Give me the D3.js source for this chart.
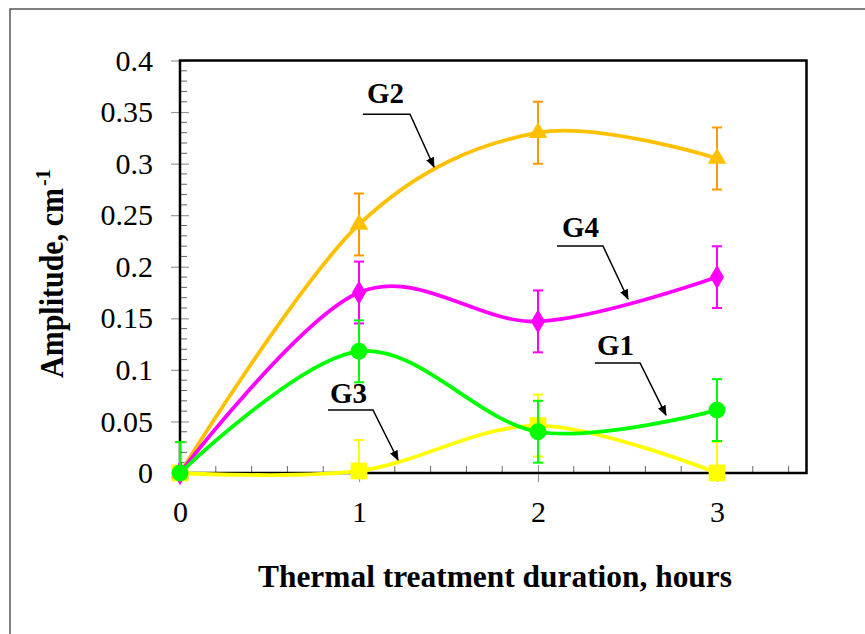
<!DOCTYPE html>
<html>
<head>
<meta charset="utf-8">
<script src="https://cdn.jsdelivr.net/npm/d3@7"></script>
<style>
  body { margin: 0; background: #fff; }
  svg text { font-family: "Liberation Serif", "Times New Roman", serif; }
</style>
</head>
<body>
<div id="chart"></div>
<script>
// data
const hours = [0, 1, 2, 3];
const g1 = [0, 0.118, 0.040, 0.061];
const g2 = [0, 0.241, 0.330, 0.305];
const g3 = [0, 0.002, 0.046, 0];
const g4 = [0, 0.175, 0.147, 0.190];
const errG1 = [0.03, 0.03, 0.03, 0.03];
const errG2 = [0.03, 0.03, 0.03, 0.03];
const errG3 = [0.03, 0.03, 0.03, 0.03];
const errG4 = [0.03, 0.03, 0.03, 0.03];
const yTicks = [0, 0.05, 0.1, 0.15, 0.2, 0.25, 0.3, 0.35, 0.4];
const xTicks = [0, 1, 2, 3];

// annotation labels: [text, label x, label y, elbow start x, elbow end x, elbow y, tip x, tip y] (data units)
const notes = [
    ["G2", 1.045, 0.3588, 1.022, 1.285, 0.348, 1.419, 0.2967],
    ["G4", 2.134, 0.2288, 2.106, 2.363, 0.2201, 2.503, 0.1687],
    ["G1", 2.330, 0.1144, 2.318, 2.570, 0.1067, 2.715, 0.0562],
    ["G3", 0.838, 0.0679, 0.827, 1.078, 0.0611, 1.218, 0.0126]
];

const W = 865, H = 634;
const FONT = "'Liberation Serif', 'Times New Roman', serif";
const svg = d3.select("#chart").append("svg")
    .attr("width", W)
    .attr("height", H);

// outer frame
svg.append("path")
    .attr("d", "M10," + H + "V9H" + W)
    .attr("fill", "none")
    .attr("stroke", "#555")
    .attr("stroke-width", 1.5);

const x = d3.scaleLinear().domain([0, 3.5]).range([180, 806.5]);
const y = d3.scaleLinear().domain([0, 0.4]).range([473, 60.5]);

svg.append("defs").append("clipPath")
    .attr("id", "plotclip")
    .append("rect")
    .attr("x", x(0) - 12).attr("y", y(0.4))
    .attr("width", x(3.5) - x(0) + 12).attr("height", y(0) - y(0.4));

// minor ticks
const yMinor = d3.range(0, 0.4001, 0.01).filter(function (v) { return Math.abs(v * 20 - Math.round(v * 20)) > 1e-6; });
svg.append("g").selectAll("line")
    .data(yMinor)
    .enter().append("line")
    .attr("x1", x(0)).attr("x2", x(0) + 7)
    .attr("y1", function (d) { return y(d); })
    .attr("y2", function (d) { return y(d); })
    .attr("stroke", "#666").attr("stroke-width", 1);

const xMinor = d3.range(0, 3.5001, 0.2).filter(function (v) { return Math.abs(v - Math.round(v)) > 1e-6; });
svg.append("g").selectAll("line")
    .data(xMinor)
    .enter().append("line")
    .attr("x1", function (d) { return x(d); })
    .attr("x2", function (d) { return x(d); })
    .attr("y1", y(0)).attr("y2", y(0) - 7)
    .attr("stroke", "#666").attr("stroke-width", 1);

// axes with crossing major ticks
const yAxis = svg.append("g")
    .attr("transform", "translate(" + x(0) + ",0)")
    .call(d3.axisLeft(y).tickValues(yTicks).tickSize(9).tickPadding(18)
        .tickFormat(function (d) { return d === 0 ? "0" : String(+d.toFixed(2)); }))
    .attr("font-family", FONT)
    .attr("font-size", 30);
yAxis.select(".domain").remove();
yAxis.selectAll(".tick line").attr("x2", -9).attr("x1", 9).attr("stroke", "#999").attr("stroke-width", 1.2);
yAxis.selectAll("text").attr("fill", "#000");

const xAxis = svg.append("g")
    .attr("transform", "translate(0," + y(0) + ")")
    .call(d3.axisBottom(x).tickValues(xTicks).tickSize(9).tickPadding(19).tickFormat(d3.format("d")))
    .attr("font-family", FONT)
    .attr("font-size", 30);
xAxis.select(".domain").remove();
xAxis.selectAll(".tick line").attr("y1", -8).attr("y2", 9).attr("stroke", "#999").attr("stroke-width", 1.2);
xAxis.selectAll("text").attr("fill", "#000");

// plot border
svg.append("rect")
    .attr("x", x(0)).attr("y", y(0.4))
    .attr("width", x(3.5) - x(0)).attr("height", y(0) - y(0.4))
    .attr("fill", "none")
    .attr("stroke", "#000")
    .attr("stroke-width", 2.5);

// series, drawn bottom to top
const series = [
    { name: "G3", vals: g3, err: errG3, line: "#FFFF00", bar: "#FFFF00", shape: d3.symbolSquare, size: 280 },
    { name: "G2", vals: g2, err: errG2, line: "#FFC000", bar: "#FF9900", shape: d3.symbolTriangle, size: 150 },
    { name: "G4", vals: g4, err: errG4, line: "#FF00FF", bar: "#FF00FF", shape: d3.symbolDiamond, size: 170 },
    { name: "G1", vals: g1, err: errG1, line: "#00FF00", bar: "#00FF00", shape: d3.symbolCircle, size: 225 }
];

const line = d3.line()
    .x(function (d) { return x(d[0]); })
    .y(function (d) { return y(d[1]); })
    .curve(d3.curveCardinal.tension(0));

const plot = svg.append("g");
series.forEach(function (s) {
    const pts = hours.map(function (h, i) { return [h, s.vals[i], s.err[i]]; });
    const g = plot.append("g");
    g.append("path")
        .datum(pts)
        .attr("d", line)
        .attr("fill", "none")
        .attr("stroke", s.line)
        .attr("stroke-width", 3.8);

    const eb = g.append("g").attr("clip-path", "url(#plotclip)");
    pts.forEach(function (p) {
        const cx = x(p[0]);
        eb.append("line")
            .attr("x1", cx).attr("x2", cx)
            .attr("y1", y(p[1] - p[2])).attr("y2", y(p[1] + p[2]))
            .attr("stroke", s.bar).attr("stroke-width", 2);
        [p[1] - p[2], p[1] + p[2]].forEach(function (v) {
            eb.append("line")
                .attr("x1", cx - 5).attr("x2", cx + 5)
                .attr("y1", y(v)).attr("y2", y(v))
                .attr("stroke", s.bar).attr("stroke-width", 2);
        });
    });

    g.selectAll("path.mark")
        .data(pts)
        .enter().append("path")
        .attr("class", "mark")
        .attr("transform", function (d) { return "translate(" + x(d[0]) + "," + y(d[1]) + ")"; })
        .attr("d", d3.symbol().type(s.shape).size(s.size))
        .attr("fill", s.line);
});

// annotations with arrows
svg.append("defs").append("marker")
    .attr("id", "arrow")
    .attr("viewBox", "0 0 10 10")
    .attr("refX", 9).attr("refY", 5)
    .attr("markerWidth", 7).attr("markerHeight", 7)
    .attr("orient", "auto")
    .append("path")
    .attr("d", "M0,1L10,5L0,9z")
    .attr("fill", "#000");

notes.forEach(function (n) {
    svg.append("text")
        .attr("x", x(n[1])).attr("y", y(n[2]))
        .attr("font-family", FONT)
        .attr("font-weight", "bold")
        .attr("font-size", 29)
        .text(n[0]);
    svg.append("path")
        .attr("d", "M" + x(n[3]) + "," + y(n[5]) + "H" + x(n[4]) + "L" + x(n[6]) + "," + y(n[7]))
        .attr("fill", "none")
        .attr("stroke", "#000")
        .attr("stroke-width", 1.5)
        .attr("marker-end", "url(#arrow)");
});

// axis titles
svg.append("text")
    .attr("x", 258).attr("y", 587)
    .attr("font-family", FONT)
    .attr("font-weight", "bold")
    .attr("font-size", 32)
    .attr("textLength", 474)
    .attr("lengthAdjust", "spacingAndGlyphs")
    .text("Thermal treatment duration, hours");

const yt = svg.append("g").attr("transform", "translate(63,378) rotate(-90)");
yt.append("text")
    .attr("x", 0).attr("y", 0)
    .attr("font-family", FONT)
    .attr("font-weight", "bold")
    .attr("font-size", 33)
    .attr("textLength", 190)
    .attr("lengthAdjust", "spacingAndGlyphs")
    .text("Amplitude, cm");
yt.append("text")
    .attr("x", 192).attr("y", -13)
    .attr("font-family", FONT)
    .attr("font-weight", "bold")
    .attr("font-size", 20)
    .text("-1");
</script>
</body>
</html>
